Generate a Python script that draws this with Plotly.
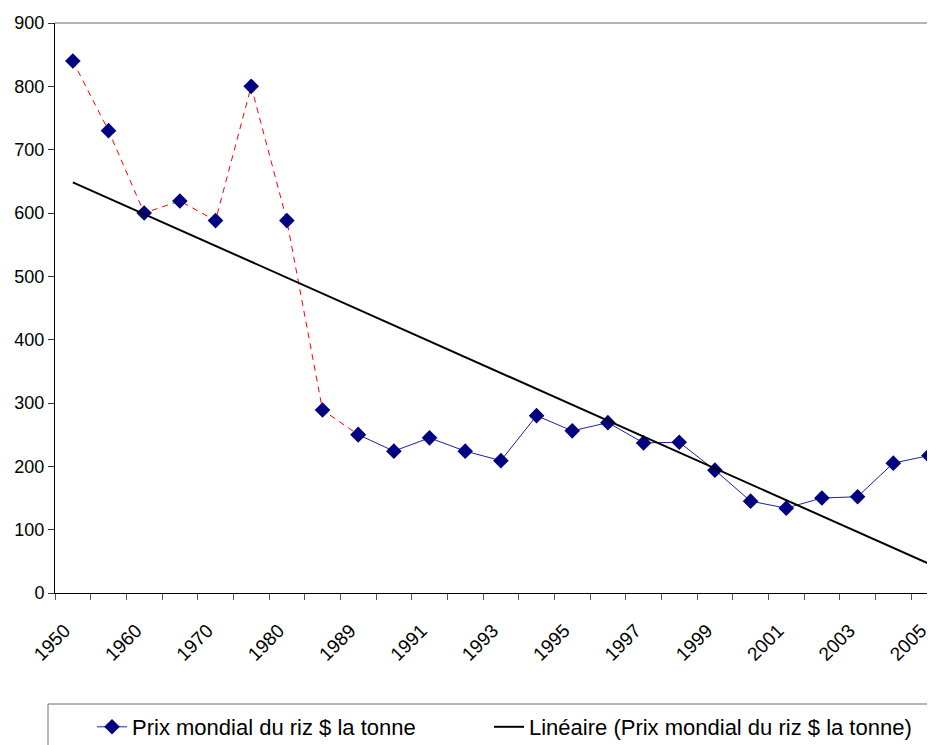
import numpy as np
import plotly.graph_objects as go

years = ["1950", "1955", "1960", "1965", "1970", "1975", "1980", "1985",
         "1989", "1990", "1991", "1992", "1993", "1994", "1995", "1996",
         "1997", "1998", "1999", "2000", "2001", "2002", "2003", "2004", "2005"]
prices = [840, 730, 600, 619, 588, 800, 588, 289,
          250, 224, 245, 224, 209, 280, 256, 269,
          237, 238, 194, 145, 134, 150, 152, 205, 217]
shown_labels = [y if i % 2 == 0 else "" for i, y in enumerate(years)]
split = 8  # red dashed segment up to 1989

series_name = "Prix mondial du riz $ la tonne"
trend_name = "Linéaire (Prix mondial du riz $ la tonne)"

idx = np.arange(len(prices))
slope, intercept = np.polyfit(idx, prices, 1)
trend = slope * idx + intercept

FONT = "Liberation Sans, Arial, sans-serif"
NAVY = "#000080"

# page body has an 8px margin; the figure is sized to fit the window
W, H = 927, 737
L, T, B = 47, 15, 152
plot_w = W - L
plot_h = H - T - B

def px_x(sx):  # screen x -> paper x
    return (sx - 8 - L) / plot_w

def px_y(sy):  # screen y -> paper y
    return -((sy - 8) - (H - B)) / plot_h

fig = go.Figure()
fig.add_trace(go.Scatter(
    x=years[:split + 1], y=prices[:split + 1], mode="lines+markers",
    line=dict(color="#FF0000", width=1, dash="6px,5px"),
    marker=dict(symbol="diamond", size=12, color=NAVY),
    showlegend=False, hoverinfo="skip"))
fig.add_trace(go.Scatter(
    x=years[split:], y=prices[split:], mode="lines+markers", name=series_name,
    line=dict(color="#1F1F9F", width=1),
    marker=dict(symbol="diamond", size=12, color=NAVY), legend="legend"))
fig.add_trace(go.Scatter(
    x=years, y=trend, mode="lines", name=trend_name,
    line=dict(color="black", width=2), legend="legend2"))

n = len(years)
leg_common = dict(orientation="h", xanchor="left", yanchor="top",
                  borderwidth=0, bgcolor="rgba(0,0,0,0)", font=dict(size=22))
fig.update_layout(
    width=W, height=H,
    margin=dict(l=L, r=0, t=T, b=B, autoexpand=False),
    paper_bgcolor="white", plot_bgcolor="white",
    font=dict(family=FONT, color="black", size=18),
    xaxis=dict(
        type="category", categoryorder="array", categoryarray=years,
        tickvals=years, ticktext=shown_labels, tickangle=-45,
        tickson="boundaries", ticks="outside", ticklen=6, tickcolor="#555555",
        showline=True, linecolor="black", linewidth=1,
        showgrid=False, zeroline=False, automargin=False,
        range=[-0.5, (n - 1) + 0.17],
        ticklabelstandoff=18, ticklabelshift=-8,
        tickfont=dict(size=19),
    ),
    yaxis=dict(
        range=[0, 900], dtick=100, ticks="outside", ticklen=6, tickcolor="#333333",
        showline=True, linecolor="black", linewidth=1, automargin=False,
        showgrid=False, zeroline=False, tickfont=dict(size=18),
    ),
    legend=dict(x=px_x(92), y=px_y(706), **leg_common),
    legend2=dict(x=px_x(489), y=px_y(706), **leg_common),
    shapes=[
        dict(type="line", xref="paper", yref="paper", x0=0, x1=1, y0=1, y1=1,
             line=dict(color="#B4B4B4", width=2)),
        dict(type="rect", xref="paper", yref="paper",
             x0=px_x(48), x1=1.05, y0=px_y(704), y1=px_y(770),
             line=dict(color="#6E6E6E", width=1), fillcolor="rgba(0,0,0,0)"),
    ],
)

fig.write_html("out.html")
